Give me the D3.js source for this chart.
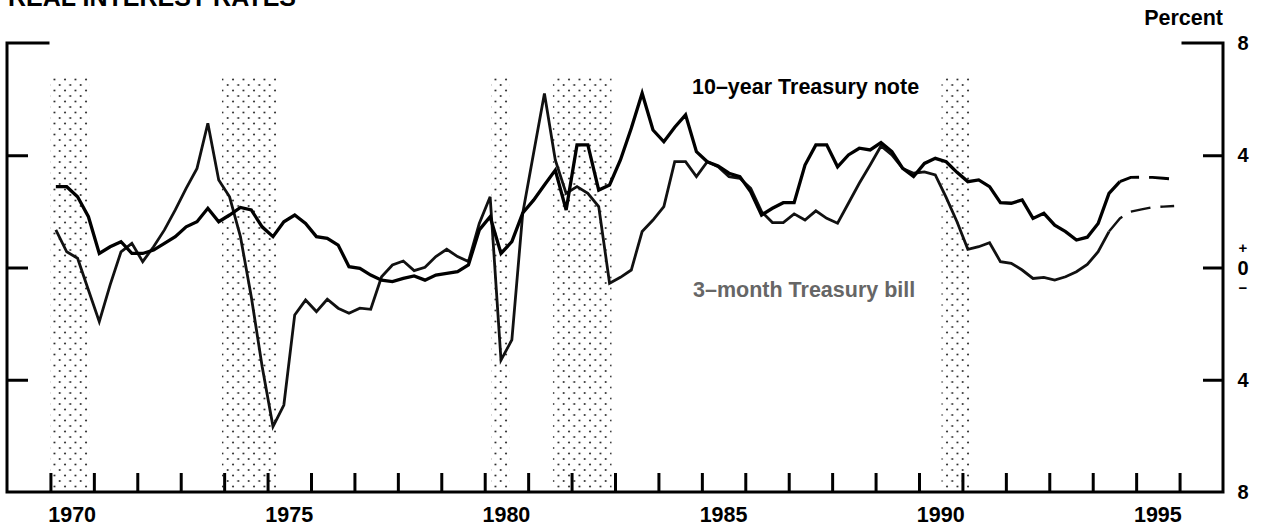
<!DOCTYPE html>
<html>
<head>
<meta charset="utf-8">
<script src="https://cdn.jsdelivr.net/npm/d3@7"></script>
<style>
  body { margin: 0; background: #fff; }
  svg { display: block; }
  text { font-family: "Liberation Sans", Arial, Helvetica, sans-serif; font-weight: bold; fill: #000; }
</style>
</head>
<body>
<div class="chart"></div>
<script>
// quarterly values, 1970Q1 .. 1995Q4 (last quarters are projections)
var firstYear = 1970;

var tenYearNote = [
  2.88, 2.88, 2.52, 1.81, 0.50, 0.74, 0.92, 0.50, 0.50, 0.62,
  0.86, 1.10, 1.45, 1.63, 2.11, 1.63, 1.87, 2.14, 2.05, 1.45,
  1.10, 1.63, 1.87, 1.57, 1.10, 1.04, 0.80, 0.03, -0.03, -0.27,
  -0.45, -0.50, -0.39, -0.30, -0.45, -0.27, -0.21, -0.15, 0.09, 1.34,
  1.81, 0.50, 0.92, 1.94, 2.40, 2.94, 3.47, 2.05, 4.37, 4.37,
  2.76, 2.94, 3.83, 4.96, 6.21, 4.90, 4.48, 5.00, 5.44, 4.13,
  3.77, 3.62, 3.36, 3.24, 2.70, 1.87, 2.11, 2.31, 2.31, 3.65,
  4.37, 4.37, 3.59, 4.01, 4.25, 4.19, 4.45, 4.13, 3.53, 3.24,
  3.71, 3.89, 3.77, 3.39, 3.06, 3.12, 2.88, 2.31, 2.29, 2.41,
  1.75, 1.93, 1.51, 1.28, 0.98, 1.08, 1.57, 2.64, 3.06, 3.21,
  3.22, 3.21, 3.18, 3.15
];

var threeMonthBill = [
  1.34, 0.56, 0.33, -0.80, -1.93, -0.62, 0.56, 0.86, 0.21, 0.74,
  1.34, 2.05, 2.82, 3.53, 5.14, 3.12, 2.52, 1.10, -1.04, -3.53,
  -5.67, -4.90, -1.69, -1.16, -1.57, -1.13, -1.45, -1.63, -1.45, -1.49,
  -0.33, 0.09, 0.23, -0.11, 0.01, 0.39, 0.65, 0.39, 0.21, 1.57,
  2.52, -3.30, -2.58, 1.93, 4.07, 6.20, 3.83, 2.64, 2.88, 2.64,
  2.17, -0.56, -0.35, -0.09, 1.28, 1.69, 2.17, 3.77, 3.77, 3.24,
  3.77, 3.59, 3.24, 3.18, 2.82, 1.99, 1.60, 1.60, 1.91, 1.69,
  2.02, 1.75, 1.58, 2.29, 3.00, 3.65, 4.33, 4.01, 3.53, 3.36,
  3.41, 3.30, 2.50, 1.63, 0.65, 0.74, 0.88, 0.21, 0.15, -0.09,
  -0.39, -0.35, -0.45, -0.33, -0.15, 0.11, 0.56, 1.28, 1.75, 1.99,
  2.07, 2.15, 2.17, 2.19
];

// index of the last actual quarter, projections after that
var noteLastActual = 98;
var billLastActual = 97;

var recessionStart = [1970.0, 1973.95, 1980.15, 1981.57, 1990.52];
var recessionEnd   = [1970.9, 1975.2, 1980.58, 1982.92, 1991.17];

var yearTicks = d3.range(1970, 1997);
var yearLabels = [1970, 1975, 1980, 1985, 1990, 1995];
var yTickValues = [8, 4, 0, -4, -8];
var yTickLabels = ["8", "4", "0", "4", "8"];

var width = 1261, height = 531;

var svg = d3.select(".chart").append("svg")
    .attr("width", width)
    .attr("height", height);

var x = d3.scaleLinear().domain([1969, 1997]).range([7, 1223]);
var y = d3.scaleLinear().domain([-8, 8]).range([492, 43]);

// dotted fill for recessions
var pat = svg.append("defs").append("pattern")
    .attr("id", "dots")
    .attr("patternUnits", "userSpaceOnUse")
    .attr("width", 10.5)
    .attr("height", 11);
pat.append("circle").attr("cx", 2).attr("cy", 2.5).attr("r", 1).attr("fill", "#222");
pat.append("circle").attr("cx", 7.25).attr("cy", 8).attr("r", 1).attr("fill", "#222");

svg.selectAll(".recession")
    .data(recessionStart)
    .enter().append("rect")
    .attr("class", "recession")
    .attr("x", function(d) { return x(d); })
    .attr("y", y(6.85))
    .attr("width", function(d, i) { return x(recessionEnd[i]) - x(d); })
    .attr("height", y(-8) - y(6.85))
    .attr("fill", "url(#dots)");

// title, cut off at the top of the page as in the scan
svg.append("text")
    .attr("x", 8).attr("y", 6)
    .style("font-size", "25px")
    .text("REAL INTEREST RATES");

svg.append("text")
    .attr("x", 1223).attr("y", 25)
    .attr("text-anchor", "end")
    .style("font-size", "21.5px")
    .text("Percent");

// axes
var bottomAxis = d3.axisBottom(x)
    .tickValues(yearTicks)
    .tickSize(-19)
    .tickFormat("");
var gx = svg.append("g")
    .attr("transform", "translate(0," + y(-8) + ")")
    .call(bottomAxis);

var leftAxis = d3.axisLeft(y).tickValues([4, 0, -4]).tickSize(-21).tickFormat("");
var gl = svg.append("g")
    .attr("transform", "translate(" + x(1969) + ",0)")
    .call(leftAxis);

var rightAxis = d3.axisRight(y).tickValues([4, 0, -4]).tickSize(-20).tickFormat("");
var gr = svg.append("g")
    .attr("transform", "translate(" + x(1997) + ",0)")
    .call(rightAxis);

[gx, gl, gr].forEach(function(g) {
  g.select(".domain").remove();
  g.selectAll(".tick line").attr("stroke", "#000").attr("stroke-width", 3);
});

var frame = svg.append("g")
    .attr("stroke", "#000")
    .attr("stroke-width", 3)
    .attr("stroke-linecap", "square")
    .attr("fill", "none");
frame.append("path").attr("d", d3.line()([
  [x(1969) + 41, y(8)], [x(1969), y(8)], [x(1969), y(-8)], [x(1997), y(-8)], [x(1997), y(8)], [x(1997) - 40, y(8)]
]));

// year labels centred on each year
svg.selectAll(".yearLabel")
    .data(yearLabels)
    .enter().append("text")
    .attr("class", "yearLabel")
    .attr("x", function(d) { return x(d + 0.5); })
    .attr("y", 522)
    .attr("text-anchor", "middle")
    .style("font-size", "21.5px")
    .text(function(d) { return d; });

svg.selectAll(".pctLabel")
    .data(yTickValues)
    .enter().append("text")
    .attr("class", "pctLabel")
    .attr("x", 1243)
    .attr("y", function(d) { return y(d); })
    .attr("dy", "0.36em")
    .attr("text-anchor", "middle")
    .style("font-size", "20px")
    .text(function(d, i) { return yTickLabels[i]; });

svg.append("text").attr("x", 1243).attr("y", y(0) - 15)
    .attr("text-anchor", "middle").style("font-size", "15px").text("+");
svg.append("text").attr("x", 1243).attr("y", y(0) + 25)
    .attr("text-anchor", "middle").style("font-size", "15px").text("\u2212");

// series
function quarter(i) { return firstYear + (i + 0.5) / 4; }

var line = d3.line()
    .x(function(d) { return x(quarter(d[0])); })
    .y(function(d) { return y(d[1]); });

function drawSeries(values, lastActual, w, color) {
  var pts = values.map(function(v, i) { return [i, v]; });
  svg.append("path")
    .datum(pts.slice(0, lastActual + 1))
    .attr("d", line)
    .attr("fill", "none")
    .attr("stroke", color)
    .attr("stroke-width", w)
    .attr("stroke-linejoin", "miter");
  svg.append("path")
    .datum(pts.slice(lastActual))
    .attr("d", line)
    .attr("fill", "none")
    .attr("stroke", color)
    .attr("stroke-width", w - 0.4)
    .attr("stroke-dasharray", "20,10");
}

drawSeries(threeMonthBill, billLastActual, 2.8, "#111");
drawSeries(tenYearNote, noteLastActual, 3.3, "#000");

svg.append("text")
    .attr("x", 692).attr("y", 94)
    .style("font-size", "21.5px")
    .text("10\u2013year Treasury note");

svg.append("text")
    .attr("x", 693).attr("y", 297)
    .style("font-size", "21.5px")
    .style("fill", "#666")
    .text("3\u2013month Treasury bill");
</script>
</body>
</html>
